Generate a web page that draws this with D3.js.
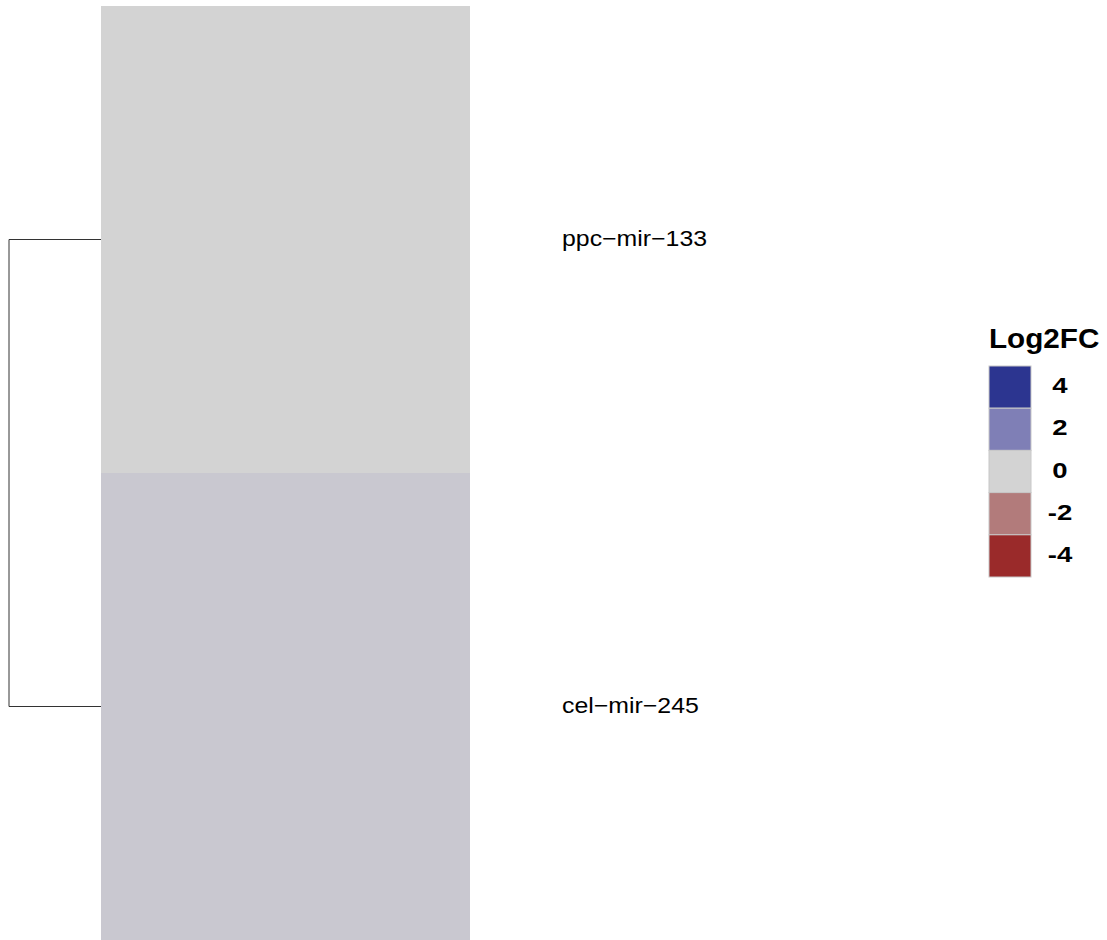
<!DOCTYPE html>
<html><head><meta charset="utf-8">
<script src="https://cdn.jsdelivr.net/npm/d3@7"></script>
<style>body{margin:0;background:#fff}svg{display:block}text{font-family:"Liberation Sans",Arial,Helvetica,sans-serif}</style>
</head><body>
<script>
const rows = ["ppc\u2212mir\u2212133", "cel\u2212mir\u2212245"];
const values = [0.01, 0.25];
const legendValues = [4, 2, 0, -2, -4];
const legendColors = ["#2C3590", "#7F7FB6", "#D3D3D3", "#B27B7B", "#9A2A2A"];
const legendTitle = "Log2FC";

const W = 1107, H = 940;
const svg = d3.select("body").append("svg").attr("width", W).attr("height", H);

const color = d3.scaleLinear().domain([-4, -2, 0, 2, 4])
  .range(legendColors.slice().reverse()).interpolate(d3.interpolateLab);

const y = d3.scaleBand().domain(rows).range([6, 940]);
const x0 = 101, x1 = 470;

svg.selectAll("rect.cell").data(rows).enter().append("rect")
  .attr("x", x0).attr("width", x1 - x0)
  .attr("y", d => y(d)).attr("height", y.bandwidth())
  .attr("fill", (d, i) => color(values[i]));

// dendrogram
const yc = d => y(d) + y.bandwidth() / 2;
const dx = 9;
svg.append("path")
  .attr("d", `M${x0},${yc(rows[0])}H${dx}V${yc(rows[1])}H${x0}`)
  .attr("fill", "none").attr("stroke", "#333").attr("stroke-width", 1);

// row labels
svg.selectAll("text.rl").data(rows).enter().append("text")
  .attr("transform", d => `translate(562,${yc(d) + 6.5}) scale(1.13,1)`)
  .attr("font-size", 22).attr("fill", "#000").text(d => d);

// legend
const lg = svg.append("g");
lg.append("text").attr("transform", "translate(989,348) scale(1.06,1)").attr("font-size", 28)
  .attr("font-weight", "bold").text(legendTitle);
const ly = d3.scaleBand().domain(legendValues).range([366, 577]);
lg.selectAll("rect").data(legendValues).enter().append("rect")
  .attr("x", 989).attr("width", 42).attr("y", d => ly(d)).attr("height", ly.bandwidth())
  .attr("fill", (d, i) => legendColors[i]).attr("stroke", "#c8c8c8").attr("stroke-width", 1);
lg.selectAll("text.lv").data(legendValues).enter().append("text")
  .attr("transform", d => `translate(1060,${ly(d) + ly.bandwidth() / 2 + 6}) scale(1.25,1)`)
  .attr("text-anchor", "middle")
  .attr("font-size", 22).attr("font-weight", "bold").text(d => d);
</script>
</body></html>
